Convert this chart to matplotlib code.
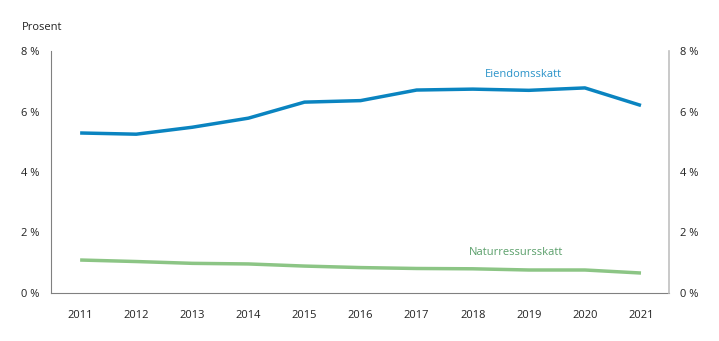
import matplotlib.pyplot as plt

plt.rcParams['font.family'] = ['Open Sans', 'DejaVu Sans']

years = [2011, 2012, 2013, 2014, 2015, 2016, 2017, 2018, 2019, 2020, 2021]
eiendomsskatt = [5.29, 5.25, 5.48, 5.78, 6.31, 6.36, 6.71, 6.74, 6.70, 6.78, 6.20]
naturressursskatt = [1.09, 1.04, 0.98, 0.96, 0.89, 0.84, 0.81, 0.80, 0.76, 0.76, 0.66]
yticks = [0, 2, 4, 6, 8]

fig = plt.figure(figsize=(7.19, 3.41), dpi=100)
ax = fig.add_axes([0.0709, 0.1408, 0.8596, 0.7096])

ax.plot(years, eiendomsskatt, color='#0a84c0', lw=2.5, solid_capstyle='butt')
ax.plot(years, naturressursskatt, color='#8cc585', lw=2.5, solid_capstyle='butt')

ax.set_xlim(2010.48, 2021.5)
ax.set_ylim(0, 8)
ax.set_xticks(years)
ax.set_yticks(yticks)
ax.set_yticklabels([f'{v} %' for v in yticks])
ax.tick_params(length=0, labelsize=8, colors='#222222')
ax.tick_params(axis='x', pad=12)
ax.tick_params(axis='y', pad=8)

ax2 = ax.twinx()
ax2.set_ylim(0, 8)
ax2.set_yticks(yticks)
ax2.set_yticklabels([f'{v} %' for v in yticks])
ax2.tick_params(length=0, labelsize=8, colors='#222222', pad=8)

for a in (ax, ax2):
    a.spines['top'].set_visible(False)
ax.spines['right'].set_visible(False)
ax2.spines['left'].set_visible(False)
ax2.spines['bottom'].set_visible(False)
ax.spines['left'].set_color('#808080')
ax.spines['bottom'].set_color('#808080')
ax2.spines['right'].set_color('#c0c0c0')
ax2.spines['right'].set_linewidth(1.2)

ax.text(2018.9, 7.22, 'Eiendomsskatt', color='#2a93c9', fontsize=8, ha='center', va='center')
ax.text(2018.77, 1.35, 'Naturressursskatt', color='#5a9f6a', fontsize=8, ha='center', va='center')
fig.text(22 / 719, 1 - 28 / 341, 'Prosent', fontsize=8, color='#222222', ha='left', va='center')

fig.savefig('out.png', dpi=100)
